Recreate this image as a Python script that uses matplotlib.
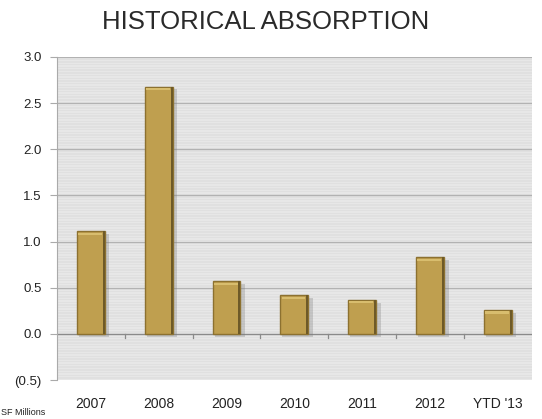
import matplotlib.pyplot as plt
import numpy as np
from matplotlib.ticker import FuncFormatter

categories = ['2007', '2008', '2009', '2010', '2011', '2012', "YTD '13"]
absorption = [1.11, 2.68, 0.57, 0.42, 0.37, 0.83, 0.26]
y_ticks = [-0.5, 0.0, 0.5, 1.0, 1.5, 2.0, 2.5, 3.0]

plt.rcParams['font.family'] = ['Liberation Sans', 'DejaVu Sans']

fig = plt.figure(figsize=(5.42, 4.19), dpi=100)
ax = fig.add_axes([0.105, 0.093, 0.876, 0.771])

# striped gray background
stripes = np.tile(np.array([[0.875], [0.905]]), (120, 1))
ax.imshow(stripes, cmap='gray', vmin=0, vmax=1, aspect='auto',
          extent=(0, 1, 0, 1), transform=ax.transAxes, zorder=0,
          interpolation='nearest')

x = np.arange(len(categories))
ax.set_xlim(-0.5, len(categories) - 0.5)
ax.set_ylim(-0.5, 3.0)

for yv in y_ticks[2:]:
    ax.axhline(yv, color='#b2b2b2', lw=0.9, zorder=1)
ax.axhline(0, color='#8a8a8a', lw=1.0, zorder=1)

width = 0.41
# soft shadow
ax.bar(x + 0.05, absorption, width=width + 0.04, bottom=-0.03,
       color='#7a7a7a', alpha=0.3, zorder=2, linewidth=0)
bars = ax.bar(x, absorption, width=width, color='#bf9f4f',
              edgecolor='#8c7130', linewidth=1.0, zorder=3)
# darker right edge and lighter top
for b in bars:
    bx, bw, bh = b.get_x(), b.get_width(), b.get_height()
    ax.bar(bx + bw * 0.93, bh, width=bw * 0.07, align='edge',
           color='#6e5a28', linewidth=0, zorder=4)
    ax.bar(bx + bw * 0.04, 0.025, width=bw * 0.86, bottom=bh - 0.04,
           align='edge', color='#d8bd6e', linewidth=0, zorder=4)

# x ticks between categories on the zero line
for xv in np.arange(0.5, len(categories) - 0.5, 1.0):
    ax.plot([xv, xv], [0, -0.04], color='#8a8a8a', lw=0.9, zorder=1)

ax.set_xticks(x)
ax.set_xticklabels(categories, fontsize=10, color='#222222')
ax.tick_params(axis='x', length=0, pad=12)
ax.set_yticks(y_ticks)
ax.yaxis.set_major_formatter(FuncFormatter(
    lambda v, p: f'({abs(v):.1f})' if v < 0 else f'{v:.1f}'))
ax.tick_params(axis='y', length=5, width=0.8, color='#aaaaaa',
               labelsize=9.5, labelcolor='#222222', pad=6)

for s in ['top', 'right', 'bottom']:
    ax.spines[s].set_visible(False)
ax.spines['left'].set_color('#aaaaaa')
ax.spines['left'].set_linewidth(0.8)

fig.text(0.49, 0.947, 'HISTORICAL ABSORPTION', ha='center', va='center',
         fontsize=18.5, color='#2a2a2a')
fig.text(0.002, 0.005, 'SF Millions', ha='left', va='bottom',
         fontsize=6.5, color='#222222')

fig.savefig('out.png', dpi=100)
